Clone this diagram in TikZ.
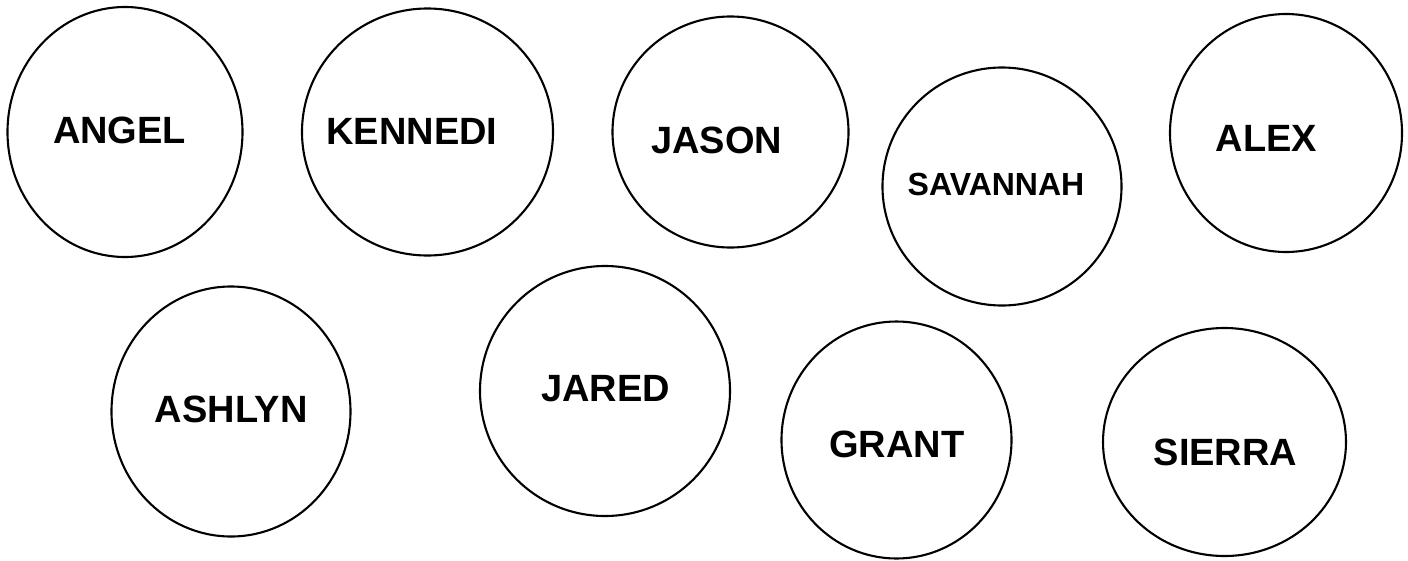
\documentclass[tikz,border=0pt]{standalone}
\usepackage{fontspec}
\setmainfont{Liberation Sans}
\begin{document}
\begin{tikzpicture}[x=1pt,y=-1pt,
  person/.style={draw=black,line width=2.1pt},
  lbl/.style={font=\fontsize{38}{40}\selectfont\bfseries,inner sep=0pt},
  lblsmall/.style={font=\fontsize{32}{34}\selectfont\bfseries,inner sep=0pt}]
\useasboundingbox (0,0) rectangle (1408,560);
% circles
\draw[person] (125,132) ellipse [x radius=117.5,y radius=125];
\draw[person] (427.5,132) ellipse [x radius=125.5,y radius=123.5];
\draw[person] (730.5,132) ellipse [x radius=118,y radius=115.5];
\draw[person] (1002,186.5) ellipse [x radius=119.5,y radius=119];
\draw[person] (1286,133) ellipse [x radius=116,y radius=119];
\draw[person] (231,411.5) ellipse [x radius=119.5,y radius=125];
\draw[person] (605,391) ellipse [x radius=125,y radius=125];
\draw[person] (896.5,440) ellipse [x radius=115,y radius=118.5];
\draw[person] (1224.5,442) ellipse [x radius=121.5,y radius=114];
% labels
\node[lbl] (angel) at (119.6,130.3) {ANGEL};
\node[lbl] (kennedi) at (412,131) {KENNEDI};
\node[lbl] (jason) at (716.7,140) {JASON};
\node[lblsmall] (savannah) at (996,184.7) {SAVANNAH};
\node[lbl] (alex) at (1266.4,138.3) {ALEX};
\node[lbl] (ashlyn) at (231.2,409.2) {ASHLYN};
\node[lbl] (jared) at (605.4,388.3) {JARED};
\node[lbl] (grant) at (896.8,444) {GRANT};
\node[lbl] (sierra) at (1225.5,452) {SIERRA};
\end{tikzpicture}
\end{document}
